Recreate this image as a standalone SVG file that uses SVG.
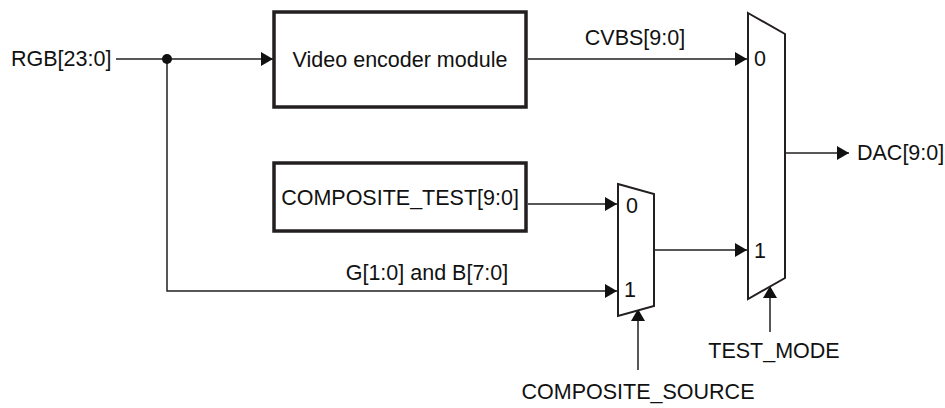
<svg xmlns="http://www.w3.org/2000/svg" width="945" height="408" viewBox="0 0 945 408">
<style>
text{font-family:"Liberation Sans",Arial,sans-serif;font-size:21.5px;fill:#111}
.box{fill:#fff;stroke:#231f20;stroke-width:3.5}
.mux{fill:#fff;stroke:#231f20;stroke-width:2}
.wire{fill:none;stroke:#231f20;stroke-width:1.5}
.arr{marker-end:url(#ah)}
</style>
<defs>
<marker id="ah" markerUnits="userSpaceOnUse" markerWidth="14" markerHeight="14" viewBox="0 0 12 14" refX="12" refY="7" orient="auto">
<path d="M0,0 L12,7 L0,14 Z" fill="#111"/>
</marker>
</defs>
<g id="connectors">
<line class="wire" x1="116" y1="59" x2="167" y2="59"/>
<line class="wire arr" x1="167" y1="59" x2="273" y2="59"/>
<polyline class="wire arr" points="167,59 167,291 617,291"/>
<circle cx="167" cy="59" r="5" fill="#111"/>
<line class="wire arr" x1="528" y1="59" x2="747" y2="59"/>
<line class="wire arr" x1="528" y1="204" x2="617" y2="204"/>
<line class="wire arr" x1="655" y1="250" x2="747" y2="250"/>
<line class="wire arr" x1="786" y1="153" x2="849" y2="153"/>
<line class="wire arr" x1="638" y1="370" x2="638" y2="309"/>
<line class="wire arr" x1="770" y1="332" x2="770" y2="286"/>
<text x="635" y="45" text-anchor="middle">CVBS[9:0]</text>
<text x="427" y="280" text-anchor="middle">G[1:0] and B[7:0]</text>
</g>
<g id="rgb-input"><text x="11" y="66">RGB[23:0]</text></g>
<g id="video-encoder">
<rect class="box" x="274" y="12" width="252" height="95"/>
<text x="400" y="67" text-anchor="middle">Video encoder module</text>
</g>
<g id="composite-test">
<rect class="box" x="274" y="163" width="252" height="68"/>
<text x="400" y="205" text-anchor="middle">COMPOSITE_TEST[9:0]</text>
</g>
<g id="mux-small">
<polygon class="mux" points="618,184 654,194 654,306 618,316"/>
<text x="632" y="213" text-anchor="middle">0</text>
<text x="630" y="297" text-anchor="middle">1</text>
</g>
<g id="mux-big">
<polygon class="mux" points="748,13 785,34 785,278 748,299"/>
<text x="760" y="66" text-anchor="middle">0</text>
<text x="760" y="258" text-anchor="middle">1</text>
</g>
<g id="dac-output"><text x="857" y="160">DAC[9:0]</text></g>
<g id="composite-source"><text x="638" y="399" text-anchor="middle">COMPOSITE_SOURCE</text></g>
<g id="test-mode"><text x="774" y="358" text-anchor="middle">TEST_MODE</text></g>
</svg>
